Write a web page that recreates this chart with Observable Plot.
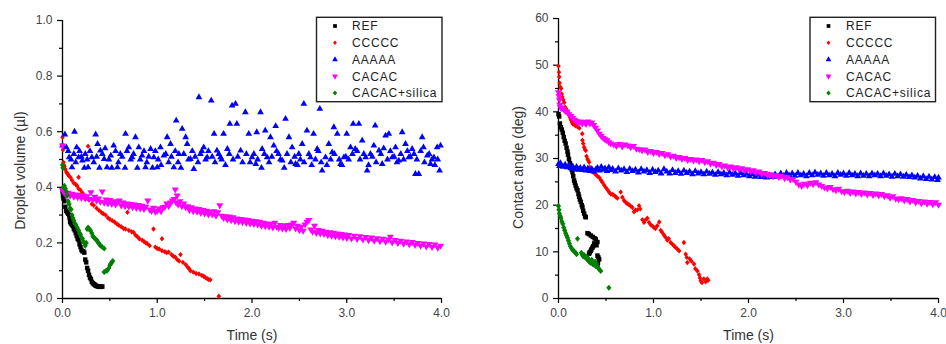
<!DOCTYPE html>
<html><head><meta charset="utf-8">
<script src="https://cdn.jsdelivr.net/npm/d3@7"></script>
<script src="https://cdn.jsdelivr.net/npm/@observablehq/plot@0.6"></script>
<style>
body{margin:0;background:#fff;}
#wrap{position:relative;width:946px;height:344px;display:flex;overflow:hidden;}
#wrap > svg{display:block;flex:none;}
#overlay{position:absolute;left:0;top:0;pointer-events:none;}
</style></head><body><div id="wrap"></div>
<script>
// ---------- series ----------
const seriesNames = ["REF", "CCCCC", "AAAAA", "CACAC", "CACAC+silica"];
const seriesColors = ["#000000", "#ff0000", "#0000ff", "#ff00ff", "#008000"];

// ---------- tick labels ----------
const timeTicks = [0, 1, 2, 3, 4];
const timeTickLabels = ["0.0", "1.0", "2.0", "3.0", "4.0"];
const timeMinorTicks = [0.5, 1.5, 2.5, 3.5];
const volTicks = [0, 0.2, 0.4, 0.6, 0.8, 1.0];
const volTickLabels = ["0.0", "0.2", "0.4", "0.6", "0.8", "1.0"];
const volMinorTicks = [0.1, 0.3, 0.5, 0.7, 0.9];
const angTicks = [0, 10, 20, 30, 40, 50, 60];
const angTickLabels = ["0", "10", "20", "30", "40", "50", "60"];
const angMinorTicks = [5, 15, 25, 35, 45, 55];

// ---------- left panel: droplet volume (µl) vs time (s) ----------
const volREF = [[0.00,0.385],[0.005,0.37],[0.01,0.36],[0.02,0.35],[0.03,0.33],[0.04,0.315],[0.05,0.31],[0.06,0.305],[0.07,0.30],[0.075,0.29],[0.08,0.275],[0.09,0.27],[0.10,0.265],[0.11,0.26],[0.12,0.25],[0.13,0.245],[0.14,0.235],[0.15,0.225],[0.16,0.215],[0.17,0.21],[0.18,0.195],[0.19,0.185],[0.20,0.175],[0.21,0.17],[0.22,0.17],[0.23,0.165],[0.24,0.14],[0.25,0.13],[0.26,0.11],[0.27,0.10],[0.28,0.085],[0.29,0.075],[0.30,0.07],[0.31,0.06],[0.32,0.055],[0.33,0.052],[0.34,0.05],[0.35,0.046],[0.36,0.045],[0.37,0.044],[0.38,0.043],[0.39,0.042],[0.40,0.042],[0.41,0.042],[0.42,0.043]];
const volC = [[0.00,0.58],[0.005,0.535],[0.01,0.49],[0.015,0.48],[0.02,0.475],[0.03,0.465],[0.04,0.455],[0.05,0.45],[0.06,0.445],[0.07,0.44],[0.085,0.435],[0.10,0.425],[0.12,0.415],[0.14,0.41],[0.155,0.405],[0.17,0.436],[0.17,0.395],[0.19,0.39],[0.21,0.38],[0.23,0.37],[0.26,0.36],[0.27,0.548],[0.28,0.355],[0.31,0.34],[0.33,0.335],[0.36,0.325],[0.385,0.317],[0.41,0.31],[0.43,0.305],[0.455,0.30],[0.48,0.29],[0.50,0.285],[0.525,0.28],[0.55,0.275],[0.575,0.268],[0.595,0.263],[0.62,0.258],[0.645,0.252],[0.665,0.25],[0.685,0.31],[0.70,0.245],[0.73,0.24],[0.75,0.238],[0.77,0.228],[0.79,0.222],[0.81,0.215],[0.84,0.21],[0.86,0.205],[0.88,0.20],[0.895,0.197],[0.92,0.19],[0.96,0.25],[0.98,0.185],[1.00,0.18],[1.02,0.178],[1.05,0.215],[1.05,0.172],[1.08,0.168],[1.10,0.165],[1.12,0.167],[1.15,0.158],[1.17,0.152],[1.19,0.149],[1.21,0.14],[1.23,0.135],[1.245,0.158],[1.27,0.13],[1.30,0.122],[1.32,0.113],[1.335,0.108],[1.35,0.10],[1.38,0.095],[1.41,0.09],[1.44,0.088],[1.47,0.083],[1.49,0.08],[1.51,0.075],[1.53,0.071],[1.545,0.068],[1.56,0.067],[1.65,0.008]];
const volA = [[0.00,0.55],[0.025,0.59],[0.127,0.60],[0.04,0.544],[0.07,0.508],[0.10,0.472],[0.15,0.544],[0.17,0.508],[0.21,0.496],[0.24,0.52],[0.27,0.472],[0.31,0.508],[0.35,0.59],[0.37,0.556],[0.40,0.532],[0.44,0.502],[0.47,0.472],[0.51,0.514],[0.54,0.55],[0.58,0.472],[0.61,0.52],[0.665,0.592],[0.70,0.544],[0.735,0.508],[0.77,0.58],[0.805,0.544],[0.84,0.514],[0.876,0.472],[0.93,0.538],[0.964,0.508],[1.00,0.472],[1.034,0.544],[1.07,0.514],[1.105,0.58],[1.14,0.556],[1.175,0.472],[1.20,0.64],[1.228,0.52],[1.263,0.61],[1.30,0.58],[1.316,0.556],[1.35,0.502],[1.386,0.466],[1.44,0.724],[1.456,0.52],[1.49,0.544],[1.527,0.508],[1.57,0.712],[1.60,0.592],[1.63,0.532],[1.668,0.508],[1.70,0.592],[1.74,0.538],[1.766,0.628],[1.79,0.694],[1.826,0.70],[1.84,0.628],[1.88,0.532],[1.93,0.67],[1.966,0.592],[2.00,0.508],[2.04,0.484],[2.05,0.598],[2.09,0.67],[2.107,0.538],[2.14,0.604],[2.16,0.508],[2.195,0.58],[2.23,0.55],[2.25,0.62],[2.28,0.52],[2.32,0.496],[2.354,0.646],[2.39,0.58],[2.424,0.544],[2.46,0.484],[2.494,0.52],[2.53,0.556],[2.547,0.70],[2.58,0.604],[2.617,0.508],[2.65,0.592],[2.688,0.538],[2.716,0.682],[2.74,0.46],[2.776,0.508],[2.81,0.556],[2.846,0.526],[2.864,0.616],[2.90,0.592],[2.934,0.484],[2.97,0.508],[3.00,0.592],[3.04,0.544],[3.068,0.628],[3.09,0.538],[3.128,0.628],[3.163,0.568],[3.20,0.508],[3.215,0.46],[3.25,0.52],[3.286,0.55],[3.30,0.622],[3.34,0.532],[3.374,0.484],[3.41,0.586],[3.444,0.592],[3.48,0.508],[3.515,0.544],[3.55,0.496],[3.585,0.598],[3.62,0.556],[3.655,0.508],[3.69,0.538],[3.725,0.448],[3.76,0.448],[3.796,0.58],[3.81,0.544],[3.85,0.514],[3.884,0.484],[3.92,0.508],[3.954,0.544],[3.98,0.46],[3.99,0.55],
[0.06,0.53],[0.09,0.50],[0.12,0.52],[0.14,0.49],[0.18,0.53],[0.20,0.51],[0.23,0.47],[0.26,0.50],[0.29,0.53],[0.33,0.49],[0.36,0.51],[0.39,0.47],[0.42,0.52],[0.45,0.54],[0.49,0.50],[0.52,0.47],[0.56,0.53],[0.59,0.49],[0.63,0.51],[0.66,0.47],[0.68,0.53],[0.72,0.50],[0.75,0.52],[0.79,0.47],[0.82,0.50],[0.86,0.53],[0.89,0.49],[0.91,0.51],[0.95,0.47],[0.98,0.53],[1.01,0.50],[1.04,0.48],[1.09,0.52],[1.12,0.49],[1.15,0.51],[1.19,0.53],[1.22,0.49],[1.25,0.47],[1.28,0.52],[1.33,0.50],[1.37,0.53],[1.40,0.51],[1.43,0.49],[1.47,0.53],[1.51,0.50],[1.54,0.53],[1.58,0.51],[1.61,0.49],[1.65,0.52],[1.68,0.50],[1.72,0.48],[1.76,0.52],[1.80,0.50],[1.85,0.51],[1.90,0.49],[1.94,0.52],[1.98,0.49],[2.02,0.52],[2.06,0.50],[2.10,0.47],[2.13,0.52],[2.18,0.49],[2.21,0.51],[2.26,0.53],[2.30,0.50],[2.34,0.47],[2.37,0.52],[2.41,0.49],[2.45,0.51],[2.48,0.48],[2.51,0.50],[2.55,0.49],[2.60,0.52],[2.63,0.48],[2.67,0.50],[2.70,0.53],[2.73,0.49],[2.79,0.48],[2.83,0.50],[2.87,0.52],[2.92,0.50],[2.95,0.48],[2.99,0.51],[3.02,0.50],[3.06,0.52],[3.11,0.53],[3.14,0.50],[3.18,0.52],[3.23,0.48],[3.27,0.51],[3.31,0.49],[3.36,0.52],[3.39,0.54],[3.43,0.50],[3.46,0.53],[3.50,0.51],[3.53,0.49],[3.57,0.52],[3.60,0.50],[3.64,0.53],[3.67,0.51],[3.71,0.52],[3.74,0.50],[3.78,0.53],[3.82,0.49],[3.87,0.52],[3.90,0.50],[3.93,0.48],[3.96,0.50]];
const volCACAC = [[0.00,0.55],[0.00,0.39],[0.01,0.385],[0.02,0.38],[0.04,0.372],[0.06,0.38],[0.08,0.37],[0.10,0.377],[0.12,0.366],[0.14,0.374],[0.16,0.364],[0.18,0.372],[0.20,0.362],[0.22,0.37],[0.24,0.36],[0.26,0.368],[0.28,0.358],[0.30,0.382],[0.32,0.355],[0.34,0.366],[0.36,0.352],[0.38,0.36],[0.40,0.348],[0.42,0.385],[0.44,0.345],[0.46,0.356],[0.48,0.342],[0.50,0.354],[0.52,0.34],[0.54,0.35],[0.56,0.338],[0.58,0.346],[0.60,0.352],[0.62,0.335],[0.64,0.345],[0.66,0.332],[0.68,0.342],[0.70,0.33],[0.72,0.34],[0.74,0.328],[0.76,0.338],[0.78,0.326],[0.80,0.336],[0.82,0.324],[0.84,0.334],[0.86,0.322],[0.88,0.33],[0.90,0.352],[0.92,0.32],[0.94,0.315],[0.96,0.326],[0.98,0.312],[1.00,0.316],[1.02,0.324],[1.04,0.314],[1.06,0.328],[1.08,0.33],[1.10,0.342],[1.12,0.332],[1.14,0.345],[1.16,0.352],[1.18,0.358],[1.19,0.392],[1.20,0.345],[1.21,0.37],[1.22,0.338],[1.24,0.35],[1.26,0.332],[1.28,0.342],[1.30,0.328],[1.32,0.332],[1.34,0.318],[1.36,0.328],[1.38,0.314],[1.40,0.324],[1.42,0.312],[1.44,0.322],[1.46,0.308],[1.48,0.318],[1.50,0.306],[1.52,0.316],[1.54,0.302],[1.56,0.312],[1.58,0.302],[1.60,0.314],[1.62,0.298],[1.64,0.31],[1.66,0.335],[1.68,0.298],[1.70,0.29],[1.72,0.296],[1.74,0.284],[1.76,0.295],[1.78,0.282],[1.80,0.292],[1.82,0.278],[1.84,0.288],[1.86,0.276],[1.88,0.286],[1.90,0.274],[1.92,0.284],[1.94,0.272],[1.96,0.282],[1.98,0.27],[2.00,0.28],[2.02,0.268],[2.04,0.278],[2.06,0.266],[2.08,0.276],[2.10,0.262],[2.12,0.272],[2.14,0.26],[2.16,0.27],[2.18,0.258],[2.20,0.268],[2.22,0.256],[2.24,0.272],[2.26,0.258],[2.28,0.254],[2.30,0.264],[2.32,0.252],[2.34,0.262],[2.36,0.25],[2.38,0.264],[2.40,0.254],[2.42,0.266],[2.44,0.272],[2.46,0.252],[2.48,0.262],[2.50,0.246],[2.52,0.258],[2.54,0.244],[2.56,0.266],[2.58,0.276],[2.60,0.282],[2.62,0.248],[2.64,0.24],[2.66,0.262],[2.68,0.236],[2.70,0.246],[2.72,0.234],[2.74,0.244],[2.76,0.232],[2.78,0.24],[2.80,0.228],[2.82,0.238],[2.84,0.226],[2.86,0.236],[2.88,0.224],[2.90,0.234],[2.92,0.222],[2.94,0.232],[2.96,0.22],[2.98,0.23],[3.00,0.218],[3.02,0.228],[3.05,0.216],[3.08,0.226],[3.11,0.214],[3.14,0.224],[3.17,0.212],[3.20,0.221],[3.23,0.21],[3.26,0.219],[3.29,0.208],[3.32,0.217],[3.35,0.206],[3.38,0.215],[3.41,0.204],[3.44,0.212],[3.46,0.222],[3.48,0.202],[3.51,0.21],[3.54,0.2],[3.57,0.208],[3.60,0.197],[3.63,0.205],[3.66,0.195],[3.69,0.203],[3.72,0.193],[3.75,0.2],[3.78,0.19],[3.81,0.198],[3.84,0.187],[3.87,0.196],[3.90,0.185],[3.93,0.194],[3.96,0.183],[3.99,0.19]];
const volSilica = [[0.00,0.48],[0.005,0.47],[0.01,0.40],[0.02,0.405],[0.03,0.395],[0.04,0.385],[0.05,0.37],[0.06,0.35],[0.07,0.34],[0.08,0.325],[0.09,0.32],[0.10,0.30],[0.11,0.29],[0.12,0.28],[0.13,0.27],[0.14,0.265],[0.155,0.255],[0.17,0.245],[0.18,0.235],[0.19,0.23],[0.20,0.22],[0.21,0.215],[0.22,0.205],[0.23,0.20],[0.24,0.19],[0.25,0.20],[0.26,0.25],[0.27,0.255],[0.28,0.25],[0.295,0.245],[0.31,0.235],[0.32,0.225],[0.33,0.22],[0.345,0.215],[0.36,0.21],[0.37,0.205],[0.38,0.20],[0.39,0.195],[0.40,0.19],[0.42,0.185],[0.44,0.18],[0.44,0.095],[0.46,0.10],[0.47,0.10],[0.49,0.11],[0.50,0.12],[0.51,0.125],[0.52,0.13],[0.53,0.135]];

// ---------- right panel: contact angle (deg) vs time (s) ----------
const angREF = [[0.00,39.5],[0.007,39.0],[0.015,37.5],[0.025,36.7],[0.035,36.2],[0.045,35.5],[0.055,34.6],[0.065,33.8],[0.075,33.2],[0.085,32.3],[0.095,31.5],[0.10,30.8],[0.11,29.9],[0.12,29.0],[0.13,28.5],[0.14,27.6],[0.147,27.1],[0.155,26.2],[0.164,25.3],[0.172,24.8],[0.18,24.2],[0.19,23.6],[0.20,23.2],[0.21,22.4],[0.217,21.8],[0.225,21.2],[0.235,20.7],[0.245,20.0],[0.252,19.6],[0.26,18.8],[0.27,18.2],[0.28,17.6],[0.287,17.4],[0.305,14.0],[0.32,13.8],[0.34,13.5],[0.36,13.2],[0.38,12.9],[0.392,12.7],[0.41,12.1],[0.40,11.4],[0.375,11.8],[0.365,11.2],[0.357,10.9],[0.345,10.5],[0.34,10.2],[0.33,9.9],[0.322,9.6],[0.41,9.2],[0.42,8.8],[0.428,8.4],[0.415,7.6],[0.41,7.0]];
const angC = [[0.00,49.8],[0.005,48.5],[0.008,47.5],[0.012,46.2],[0.02,45.3],[0.028,45.0],[0.035,43.8],[0.04,43.2],[0.05,42.6],[0.06,42.0],[0.07,41.0],[0.08,40.6],[0.09,40.2],[0.10,39.8],[0.11,39.3],[0.12,38.8],[0.13,38.3],[0.14,37.8],[0.15,37.4],[0.16,37.6],[0.17,37.2],[0.18,37.0],[0.20,36.8],[0.22,36.5],[0.25,35.3],[0.252,33.9],[0.26,33.2],[0.27,32.4],[0.28,31.9],[0.287,31.7],[0.295,30.5],[0.305,29.9],[0.315,29.5],[0.322,29.2],[0.33,28.1],[0.34,27.4],[0.36,27.2],[0.38,26.8],[0.392,26.6],[0.41,26.2],[0.43,25.9],[0.445,25.4],[0.462,24.9],[0.48,24.3],[0.497,23.8],[0.515,23.3],[0.532,22.8],[0.55,22.4],[0.57,22.3],[0.59,22.0],[0.602,21.8],[0.62,21.5],[0.655,22.8],[0.672,21.7],[0.69,21.0],[0.707,20.6],[0.725,20.3],[0.742,20.1],[0.76,19.8],[0.778,19.5],[0.795,18.6],[0.81,18.9],[0.83,19.0],[0.848,19.9],[0.86,19.2],[0.883,16.9],[0.90,16.3],[0.915,16.8],[0.935,17.2],[0.953,16.3],[0.97,15.8],[0.99,15.5],[1.006,15.2],[1.02,15.0],[1.04,15.6],[1.06,16.4],[1.076,14.6],[1.09,14.2],[1.11,13.6],[1.128,13.1],[1.145,12.5],[1.16,12.8],[1.18,12.0],[1.20,11.6],[1.216,11.3],[1.23,11.0],[1.25,10.6],[1.27,10.2],[1.32,12.0],[1.339,9.5],[1.35,8.8],[1.356,7.7],[1.38,8.5],[1.40,8.0],[1.426,7.4],[1.44,6.4],[1.462,5.9],[1.48,5.1],[1.49,4.4],[1.497,3.8],[1.51,3.4],[1.53,4.2],[1.55,3.6],[1.566,4.2],[1.575,3.9]];
const angA = [[0.00,28.8],[0.01,28.4],[0.02,29.0],[0.03,28.5],[0.05,28.2],[0.07,28.7],[0.09,28.1],[0.11,28.5],[0.13,27.9],[0.15,28.3],[0.17,27.7],[0.19,28.2],[0.21,27.6],[0.23,28.0],[0.25,27.5],[0.27,28.1],[0.29,27.4],[0.31,27.9],[0.33,27.3],[0.35,27.8],[0.37,27.2],[0.39,27.6],[0.41,28.0],[0.43,27.4],[0.45,28.2],[0.47,27.6],[0.49,27.9],[0.51,27.3],[0.53,28.1],[0.55,27.5],[0.57,27.8],[0.60,27.2],[0.63,27.9],[0.66,27.4],[0.69,27.7],[0.72,27.1],[0.75,27.8],[0.78,27.3],[0.81,27.6],[0.84,27.0],[0.87,27.7],[0.90,27.2],[0.93,27.5],[0.96,26.9],[0.99,27.6],[1.02,27.1],[1.05,27.4],[1.08,26.8],[1.11,27.7],[1.14,27.2],[1.17,26.8],[1.20,27.5],[1.23,26.9],[1.26,27.3],[1.29,26.7],[1.32,27.4],[1.35,26.9],[1.38,27.2],[1.41,26.6],[1.44,27.3],[1.47,26.8],[1.50,27.1],[1.53,26.6],[1.56,27.2],[1.59,26.7],[1.62,27.0],[1.65,26.5],[1.68,27.1],[1.71,26.6],[1.74,26.9],[1.77,26.4],[1.80,27.0],[1.83,26.5],[1.86,26.8],[1.89,26.3],[1.92,26.9],[1.95,26.4],[1.98,26.7],[2.01,26.2],[2.04,26.6],[2.07,26.1],[2.10,26.5],[2.13,26.0],[2.16,26.3],[2.19,25.9],[2.22,26.4],[2.25,26.0],[2.28,26.6],[2.31,26.1],[2.34,26.8],[2.37,26.3],[2.40,26.9],[2.43,26.4],[2.46,26.8],[2.49,26.3],[2.52,26.9],[2.55,26.4],[2.58,26.7],[2.61,26.2],[2.64,26.9],[2.67,26.4],[2.70,27.0],[2.73,26.5],[2.76,26.8],[2.79,26.3],[2.82,26.9],[2.85,26.4],[2.88,26.7],[2.91,26.2],[2.94,26.9],[2.97,26.5],[3.00,26.8],[3.03,26.3],[3.06,26.9],[3.09,26.4],[3.12,26.7],[3.15,26.2],[3.18,26.8],[3.21,26.3],[3.24,26.7],[3.27,26.2],[3.30,26.8],[3.33,26.4],[3.36,26.7],[3.39,26.2],[3.42,26.8],[3.45,26.3],[3.48,26.6],[3.51,26.1],[3.54,26.7],[3.57,26.2],[3.60,26.6],[3.63,26.1],[3.66,26.5],[3.69,26.0],[3.72,26.4],[3.75,25.9],[3.78,26.3],[3.81,25.7],[3.84,26.2],[3.87,25.6],[3.90,26.1],[3.93,25.5],[3.96,26.0],[3.99,25.4],[4.00,25.9]];
const angCACAC = [[0.00,44.2],[0.005,43.4],[0.01,42.6],[0.015,41.5],[0.02,41.0],[0.03,40.8],[0.05,40.6],[0.07,40.2],[0.09,40.0],[0.11,39.5],[0.13,39.1],[0.15,38.7],[0.17,38.3],[0.19,38.0],[0.21,37.6],[0.23,37.9],[0.25,37.5],[0.27,37.8],[0.29,37.4],[0.31,37.9],[0.33,37.5],[0.35,37.7],[0.37,37.2],[0.39,36.6],[0.41,36.0],[0.43,35.3],[0.45,34.8],[0.47,34.4],[0.49,34.1],[0.51,33.9],[0.53,33.5],[0.55,33.2],[0.58,33.0],[0.61,32.7],[0.64,33.1],[0.67,32.6],[0.70,33.0],[0.73,32.8],[0.76,32.4],[0.79,32.7],[0.82,32.1],[0.85,32.0],[0.88,31.7],[0.91,31.9],[0.94,31.4],[0.97,31.6],[1.00,31.2],[1.03,31.4],[1.06,31.0],[1.09,31.2],[1.12,30.7],[1.15,30.9],[1.18,30.4],[1.21,30.6],[1.24,30.1],[1.27,30.3],[1.30,29.9],[1.33,30.1],[1.36,29.7],[1.39,29.9],[1.42,29.6],[1.45,29.8],[1.48,29.4],[1.51,29.7],[1.54,29.2],[1.57,29.4],[1.60,28.9],[1.63,29.1],[1.66,28.6],[1.69,28.8],[1.72,28.3],[1.75,28.5],[1.78,28.1],[1.81,28.3],[1.84,27.9],[1.87,28.1],[1.90,27.7],[1.93,27.9],[1.96,27.5],[1.99,27.7],[2.02,27.3],[2.05,27.5],[2.08,27.0],[2.11,27.2],[2.14,26.7],[2.17,26.9],[2.20,26.4],[2.23,26.6],[2.26,26.2],[2.29,26.4],[2.32,26.0],[2.35,26.3],[2.38,25.8],[2.41,26.0],[2.44,25.5],[2.47,25.6],[2.50,25.0],[2.53,24.4],[2.56,24.1],[2.59,24.6],[2.62,24.3],[2.65,24.8],[2.68,24.5],[2.71,24.9],[2.74,24.4],[2.77,24.1],[2.80,23.8],[2.83,23.6],[2.86,23.9],[2.89,23.4],[2.92,23.2],[2.95,23.5],[2.98,23.0],[3.01,22.8],[3.04,23.1],[3.07,22.6],[3.10,22.9],[3.13,22.5],[3.16,22.8],[3.19,22.4],[3.22,22.7],[3.25,22.3],[3.28,22.6],[3.31,22.2],[3.34,22.5],[3.37,22.1],[3.40,22.4],[3.43,21.9],[3.46,22.1],[3.49,21.6],[3.52,21.9],[3.55,21.4],[3.58,21.2],[3.61,21.5],[3.64,21.0],[3.67,21.3],[3.70,20.8],[3.73,21.1],[3.76,20.6],[3.79,20.9],[3.82,20.4],[3.85,20.8],[3.88,20.3],[3.91,20.7],[3.94,20.2],[3.97,20.6],[4.00,20.1]];
const angSilica = [[0.00,19.8],[0.005,19.0],[0.01,18.2],[0.02,17.6],[0.025,17.2],[0.035,16.5],[0.045,16.0],[0.055,15.2],[0.065,14.6],[0.075,14.0],[0.085,13.5],[0.095,13.0],[0.105,12.4],[0.115,11.8],[0.125,11.2],[0.135,10.8],[0.15,10.4],[0.165,10.1],[0.18,9.8],[0.19,9.5],[0.20,12.8],[0.24,9.8],[0.25,9.4],[0.26,9.0],[0.27,9.3],[0.28,8.8],[0.29,9.0],[0.30,8.4],[0.31,8.7],[0.32,8.0],[0.33,7.8],[0.34,7.6],[0.35,8.3],[0.36,7.4],[0.375,7.2],[0.385,7.9],[0.39,7.0],[0.40,7.4],[0.41,6.8],[0.42,6.5],[0.43,6.2],[0.445,5.9],[0.53,2.3]];

// ---------- symbols ----------
const sqrt3 = Math.sqrt(3);
const symSquare = {draw(c, size){ const w = Math.sqrt(size) * 0.9, h = w / 2; c.rect(-h, -h, w, w); }};
const symDiamond = {draw(c, size){ const r = Math.sqrt(size) * 0.66; c.moveTo(0,-r); c.lineTo(r*0.85,0); c.lineTo(0,r); c.lineTo(-r*0.85,0); c.closePath(); }};
const symTriUp = {draw(c, size){ const y = -Math.sqrt(size / (sqrt3 * 3)); c.moveTo(0, y * 2); c.lineTo(-sqrt3 * y, -y); c.lineTo(sqrt3 * y, -y); c.closePath(); }};
const symTriDown = {draw(c, size){ const y = -Math.sqrt(size / (sqrt3 * 3)); c.moveTo(0, -y * 2); c.lineTo(-sqrt3 * y, y); c.lineTo(sqrt3 * y, y); c.closePath(); }};
const seriesSymbols = [symSquare, symDiamond, symTriUp, symTriDown, symDiamond];
const seriesR = [2.8, 2.3, 2.5, 2.6, 2.6];

const FONT = "'Liberation Sans', Arial, Helvetica, sans-serif";

function panel({series, yDomain, yTicks, yTickLabels, yMinor, yLabel, margins, yLabelDx, yLabelDy}) {
  const xLab = new Map(timeTicks.map((t, i) => [t, timeTickLabels[i]]));
  const yLab = new Map(yTicks.map((t, i) => [t, yTickLabels[i]]));
  const dots = series.map((data, k) => Plot.dot(data, {
    x: d => d[0], y: d => d[1], symbol: seriesSymbols[k], r: seriesR[k],
    fill: seriesColors[k], stroke: "none"
  }));
  return Plot.plot({
    width: 473, height: 344,
    marginLeft: margins[0], marginRight: margins[1], marginTop: margins[2], marginBottom: margins[3],
    x: {domain: [0, 4]},
    y: {domain: yDomain},
    style: {fontFamily: FONT, background: "white", overflow: "visible"},
    marks: [
      Plot.axisX({ticks: timeTicks, tickSize: 5, tickPadding: 5, tickFormat: d => xLab.get(d), label: null, fontSize: 12, fill: "#444", stroke: "#000", strokeWidth: 1.2}),
      Plot.axisX({ticks: timeMinorTicks, tickSize: 3, tickFormat: () => "", label: null, stroke: "#000", strokeWidth: 1.2}),
      Plot.axisY({ticks: yTicks, tickSize: 5, tickPadding: 5, tickFormat: d => yLab.get(d), label: null, fontSize: 12, fill: "#444", stroke: "#000", strokeWidth: 1.2}),
      Plot.axisY({ticks: yMinor, tickSize: 3, tickFormat: () => "", label: null, stroke: "#000", strokeWidth: 1.2}),
      Plot.ruleX([0], {stroke: "#000", strokeWidth: 1.3}),
      Plot.ruleY([yDomain[0]], {stroke: "#000", strokeWidth: 1.3}),
      ...dots,
      Plot.text(["Time (s)"], {text: d => d, frameAnchor: "bottom", lineAnchor: "middle", textAnchor: "middle", dy: 37, fontSize: 14, fill: "#333"}),
      Plot.text([yLabel], {text: d => d, frameAnchor: "left", lineAnchor: "middle", textAnchor: "middle", rotate: -90, dx: yLabelDx, dy: yLabelDy, fontSize: 14, fill: "#333"})
    ]
  });
}

const wrap = document.getElementById("wrap");
wrap.appendChild(panel({
  series: [volREF, volC, volA, volCACAC, volSilica],
  yDomain: [0, 1], yTicks: volTicks, yTickLabels: volTickLabels, yMinor: volMinorTicks,
  yLabel: "Droplet volume (µl)", margins: [62, 32, 20, 46], yLabelDx: -42, yLabelDy: 11
}));
wrap.appendChild(panel({
  series: [angREF, angC, angA, angCACAC, angSilica],
  yDomain: [0, 60], yTicks: angTicks, yTickLabels: angTickLabels, yMinor: angMinorTicks,
  yLabel: "Contact angle (deg)", margins: [85, 8, 18, 46], yLabelDx: -40, yLabelDy: 9
}));

// ---------- legends (one per panel) ----------
const overlay = d3.select(wrap).append("svg").attr("id", "overlay").attr("width", 946).attr("height", 344);
const legendBoxes = [{x: 316.5, sx: 335, tx: 352}, {x: 810, sx: 828.5, tx: 846}];
for (const box of legendBoxes) {
  const g = overlay.append("g");
  g.append("rect").attr("x", box.x).attr("y", 17.3).attr("width", 125.5).attr("height", 84.4)
    .attr("fill", "white").attr("stroke", "#222").attr("stroke-width", 1.4);
  seriesNames.forEach((name, i) => {
    const cy = 26 + i * 16.75;
    g.append("path").attr("transform", `translate(${box.sx},${cy})`)
      .attr("d", d3.symbol(seriesSymbols[i], Math.PI * seriesR[i] * seriesR[i] * 0.7)())
      .attr("fill", seriesColors[i]);
    g.append("text").attr("x", box.tx).attr("y", cy).attr("dy", "0.36em")
      .attr("font-family", FONT).attr("font-size", 12).attr("letter-spacing", "0.8px")
      .attr("fill", "#222").text(name);
  });
}
</script></body></html>
